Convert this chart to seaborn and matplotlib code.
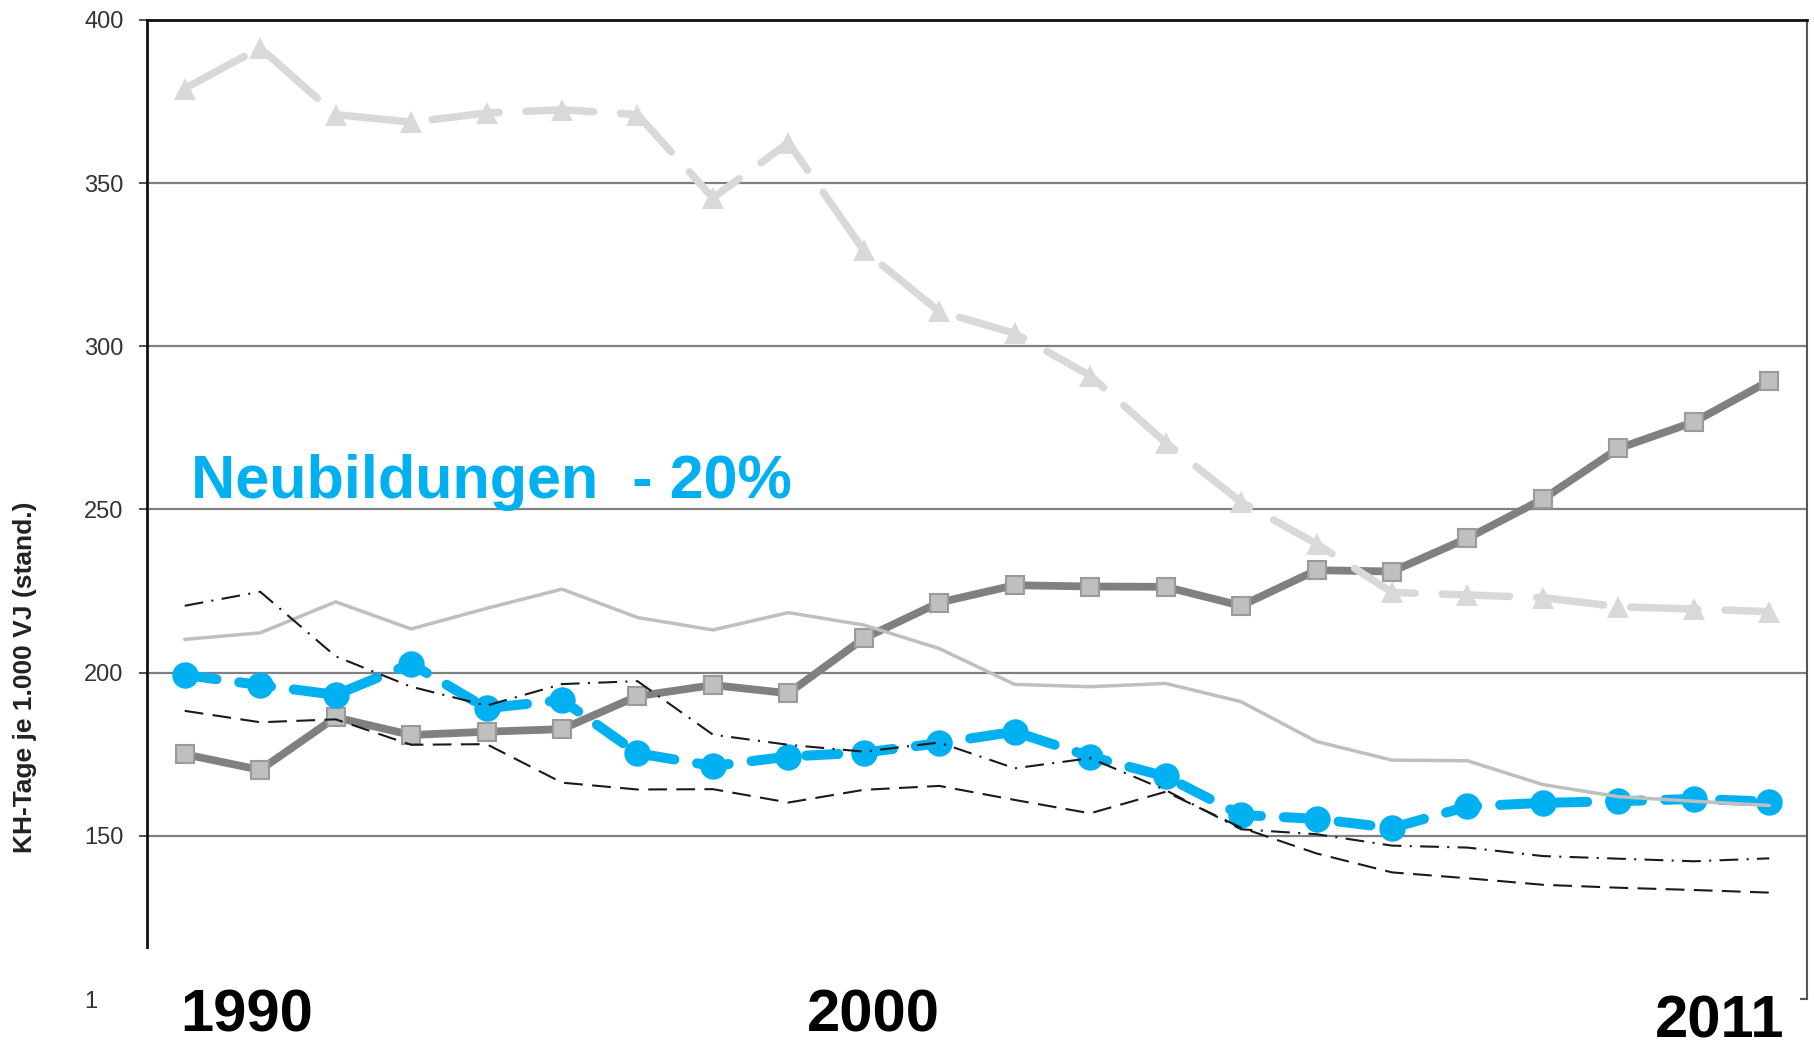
import matplotlib
matplotlib.use("Agg")
import matplotlib.pyplot as plt
import seaborn as sns
from matplotlib.patches import Rectangle

# ---------------- data ----------------
years = list(range(1990, 2012))

series_a = [379.0, 391.5, 371.0, 368.7, 371.5, 372.5, 371.0, 345.5, 362.4, 329.4, 310.7,
            304.0, 291.0, 270.5, 252.3, 239.5, 224.6, 223.8, 223.0, 220.2, 219.5, 218.7]
series_b = [175.0, 170.2, 186.3, 180.9, 181.9, 182.7, 192.8, 196.2, 193.7, 210.5, 221.5,
            226.8, 226.4, 226.3, 220.5, 231.4, 231.0, 241.2, 253.2, 268.7, 276.8, 289.4]
series_c = [210.2, 212.2, 221.7, 213.4, 219.7, 225.6, 216.9, 213.1, 218.4, 214.6, 207.4,
            196.4, 195.7, 196.7, 191.1, 178.9, 173.2, 173.0, 165.7, 162.0, 160.6, 159.3]
neubildungen = [199.3, 196.2, 193.2, 202.7, 189.1, 191.6, 175.3, 171.4, 174.3, 175.5, 178.4,
                181.9, 174.3, 168.2, 156.4, 155.2, 152.4, 159.0, 160.1, 160.6, 161.3, 160.5]
series_e = [220.5, 224.8, 205.0, 195.7, 189.9, 196.5, 197.4, 181.0, 177.9, 175.8, 178.6,
            170.7, 173.8, 164.0, 152.0, 150.5, 147.0, 146.4, 143.8, 143.0, 142.2, 143.1]
series_f = [188.3, 184.8, 185.7, 177.9, 178.1, 166.3, 164.2, 164.3, 160.2, 164.1, 165.3,
            161.0, 156.9, 163.5, 152.5, 144.6, 138.8, 137.0, 135.0, 134.1, 133.4, 132.6]

y_ticks = [100, 150, 200, 250, 300, 350, 400]
y_label = "KH-Tage je 1.000 VJ (stand.)"
headline = "Neubildungen  - 20%"
year_labels = ["1990", "2000", "2011"]

# ---------------- style ----------------
sns.set_style("white")
plt.rcParams["font.family"] = ["Liberation Sans", "DejaVu Sans"]

W, H = 1815, 1053
fig = plt.figure(figsize=(W / 100, H / 100), dpi=100)
ax = fig.add_axes([147 / W, 1 - 999 / H, (1807 - 147) / W, (999 - 20) / H])


def draw(vals, dashes=None, z=2, **kw):
    sns.lineplot(x=years, y=vals, ax=ax, estimator=None, sort=False, **kw)
    line = ax.lines[-1]
    if dashes is not None:
        line.set_dashes(dashes)
    line.set_zorder(z)
    return line


# dark grey squares (thick solid)
draw(series_b, z=2, color="#808080", linewidth=5.6, marker="s", markersize=13,
     markerfacecolor="#BFBFBF", markeredgecolor="#9A9A9A", markeredgewidth=1.5)
# blue dashed with circles
draw(neubildungen, dashes=(3.2, 2.3), z=3, color="#00B0F0", linewidth=7.2, marker="o",
     markersize=19, markerfacecolor="#00B0F0", markeredgecolor="#00B0F0",
     markeredgewidth=0, dash_capstyle="round")
# light grey thin solid
draw(series_c, z=4, color="#BFBFBF", linewidth=2.5)
# black dashed
draw(series_f, dashes=(9, 4.5), z=5, color="#1A1A1A", linewidth=1.5)
# black dash-dot
draw(series_e, dashes=(9, 4, 1, 4), z=5, color="#1A1A1A", linewidth=1.5)
# light grey dashed triangles
draw(series_a, dashes=(9, 3.6), z=6, color="#D9D9D9", linewidth=5.4, marker="^",
     markersize=16, markerfacecolor="#D9D9D9", markeredgecolor="#D9D9D9",
     markeredgewidth=0, dash_capstyle="round")

ax.set_xlim(1989.5, 2011.5)
ax.set_ylim(100, 400)
ax.set_yticks(y_ticks)
ax.set_yticklabels([str(t) for t in y_ticks])
ax.set_xticks([])
ax.set_xlabel("")
ax.set_ylabel("")
ax.yaxis.grid(True, color="#808080", linewidth=1.6)
ax.set_axisbelow(True)
ax.tick_params(axis="y", left=True, direction="out", length=6, width=1.2,
               color="#333333", labelsize=17, labelcolor="#333333", pad=11)
for side in ["left", "top"]:
    ax.spines[side].set_color("#111111")
    ax.spines[side].set_linewidth(2.0)
ax.spines["right"].set_color("#555555")
ax.spines["right"].set_linewidth(1.5)
ax.spines["bottom"].set_color("#555555")
ax.spines["bottom"].set_linewidth(1.5)

# white cover over the bottom axis area
fig.add_artist(Rectangle((97 / W, 0), (1800 - 97) / W, (H - 949) / H,
                         transform=fig.transFigure, facecolor="white",
                         edgecolor="none", zorder=5))

# texts
fig.text(25.5 / W, 1 - 677 / H, y_label, rotation=90, ha="center", va="center",
         fontsize=19, fontweight="bold", color="#222222")
fig.text(191 / W, 1 - 498 / H, headline, ha="left", va="baseline",
         fontsize=44, fontweight="bold", color="#00B0F0", zorder=6)
year_pos = [(180, 1032, "baseline"), (807, 1032, "baseline"), (1655, 1050, "bottom")]
for lab, (px, py, va) in zip(year_labels, year_pos):
    fig.text(px / W, 1 - py / H, lab, ha="left", va=va, fontsize=43,
             fontweight="bold", color="black", zorder=6)

fig.savefig("out.png", dpi=100)
